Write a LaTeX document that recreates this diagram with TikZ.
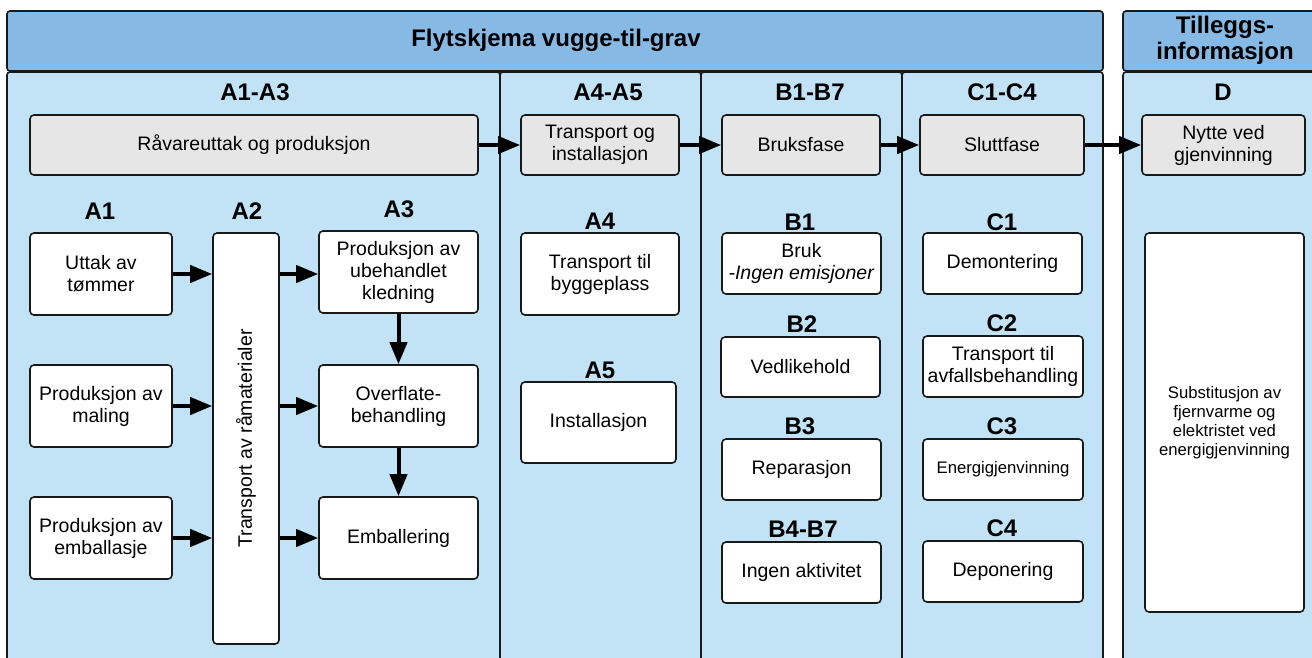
\documentclass[tikz,border=0pt]{standalone}
\usepackage{fontspec}
\setmainfont{Liberation Sans}
\usetikzlibrary{arrows.meta, positioning}
\definecolor{headblue}{RGB}{134,185,227}
\definecolor{panelblue}{RGB}{193,227,245}
\definecolor{phasegrey}{RGB}{230,230,230}
\definecolor{edgeline}{RGB}{25,25,25}
\newcommand{\bodyfont}{\fontsize{19.5}{22}\selectfont}
\newcommand{\headfont}{\fontsize{24}{26}\selectfont\bfseries}
\newcommand{\smallfont}{\fontsize{16.7}{19}\selectfont}
\tikzstyle{every node}=[font=\bodyfont]
\tikzstyle{panel}=[draw=edgeline,line width=1.6pt,rounded corners=3pt]
\tikzstyle{block}=[draw=edgeline,fill=white,rectangle,rounded corners=4pt,
  line width=1.6pt,align=center,inner sep=0pt]
\tikzstyle{phase}=[block,fill=phasegrey,minimum height=60pt]
\tikzstyle{modhead}=[font=\headfont,align=center,inner sep=0pt]
\tikzstyle{flowarrow}=[draw=black,line width=4pt,-{Triangle[length=22pt,width=17pt]}]

\begin{document}
\begin{tikzpicture}[x=1pt,y=-1pt]
  \useasboundingbox (0,0) rectangle (1312,657);
  \clip (0,0) rectangle (1312,657);
  \draw[panel,fill=headblue] (7,11) rectangle (1103,71);
  \draw[panel,fill=headblue] (1123,11) rectangle (1330,71);
  \draw[panel,fill=panelblue] (7,72) rectangle (500,700);
  \draw[panel,fill=panelblue] (500,72) rectangle (701,700);
  \draw[panel,fill=panelblue] (701,72) rectangle (902,700);
  \draw[panel,fill=panelblue] (902,72) rectangle (1103,700);
  \draw[panel,fill=panelblue] (1123,72) rectangle (1330,700);

  \node[modhead] (title) at (556,40) {Flytskjema vugge-til-grav};
  \node[modhead] (tillegg) at (1225,40) {Tilleggs-\\informasjon};
  \node[modhead] (hAA) at (255,92) {A1-A3};
  \node[modhead] (hAB) at (608,92) {A4-A5};
  \node[modhead] (hB) at (810,92) {B1-B7};
  \node[modhead] (hC) at (1002,92) {C1-C4};
  \node[modhead] (hD) at (1223,92) {D};

  \node[phase,minimum width=448pt] (raa) at (254,145) {Råvareuttak og produksjon};
  \node[phase,minimum width=158pt] (trinst) at (600,145) {Transport og\\installasjon};
  \node[phase,minimum width=158pt] (bruks) at (801,145) {Bruksfase};
  \node[phase,minimum width=164pt] (slutt) at (1002,145) {Sluttfase};
  \node[phase,minimum width=163pt] (nytte) at (1223.5,145) {Nytte ved\\gjenvinning};

  \node[modhead] (hA1) at (100,211) {A1};
  \node[modhead] (hA2) at (247,211) {A2};
  \node[modhead] (hA3) at (399,209) {A3};
  \node[block,minimum width=142pt,minimum height=82pt] (uttak) at (101,274) {Uttak av\\tømmer};
  \node[block,minimum width=142pt,minimum height=82pt] (maling) at (101,406) {Produksjon av\\maling};
  \node[block,minimum width=142pt,minimum height=82pt] (embprod) at (101,538) {Produksjon av\\emballasje};
  \node[block,minimum width=66pt,minimum height=411pt,
    label={[rotate=90,font=\bodyfont]center:Transport av råmaterialer}] (raamat) at (246,438.5) {};
  \node[block,minimum width=159pt,minimum height=82pt] (ubeh) at (398.5,272) {Produksjon av\\ubehandlet\\kledning};
  \node[block,minimum width=159pt,minimum height=82pt] (overfl) at (398.5,406) {Overflate-\\behandling};
  \node[block,minimum width=159pt,minimum height=82pt] (emball) at (398.5,538) {Emballering};

  \node[modhead] (hA4) at (600,221) {A4};
  \node[block,minimum width=158pt,minimum height=82pt] (bygg) at (600,274) {Transport til\\byggeplass};
  \node[modhead] (hA5) at (600,370) {A5};
  \node[block,minimum width=155pt,minimum height=81pt] (install) at (598.5,422.5) {Installasjon};

  \node[modhead] (hB1) at (800,222) {B1};
  \node[block,minimum width=159pt,minimum height=61pt] (bruk) at (801.5,263.5) {Bruk\\\textit{-Ingen emisjoner}};
  \node[modhead] (hB2) at (802,324) {B2};
  \node[block,minimum width=159pt,minimum height=60pt] (vedl) at (800.5,367) {Vedlikehold};
  \node[modhead] (hB3) at (800,426) {B3};
  \node[block,minimum width=159pt,minimum height=61pt] (repar) at (801.5,469.5) {Reparasjon};
  \node[modhead] (hB47) at (803,529) {B4-B7};
  \node[block,minimum width=159pt,minimum height=61pt] (ingen) at (801.5,572.5) {Ingen aktivitet};

  \node[modhead] (hC1) at (1002,222) {C1};
  \node[block,minimum width=159pt,minimum height=61pt] (demont) at (1002.5,263.5) {Demontering};
  \node[modhead] (hC2) at (1002,323) {C2};
  \node[block,minimum width=160pt,minimum height=61pt] (avfall) at (1003,366.5) {Transport til\\avfallsbehandling};
  \node[modhead] (hC3) at (1002,426) {C3};
  \node[block,minimum width=160pt,minimum height=61pt,font=\smallfont] (energi) at (1003,469.5) {Energigjenvinning};
  \node[modhead] (hC4) at (1002,528) {C4};
  \node[block,minimum width=160pt,minimum height=61pt] (depon) at (1003,571.5) {Deponering};

  \node[block,minimum width=159pt,minimum height=379pt,font=\smallfont] (subst) at (1224.5,422.5)
    {Substitusjon av\\fjernvarme og\\elektristet ved\\energigjenvinning};

  \draw[flowarrow] (raa) -- (trinst);
  \draw[flowarrow] (trinst) -- (bruks);
  \draw[flowarrow] (bruks) -- (slutt);
  \draw[flowarrow] (slutt) -- (nytte);
  \draw[flowarrow] (uttak.east) -- (uttak.east -| raamat.west);
  \draw[flowarrow] (maling.east) -- (maling.east -| raamat.west);
  \draw[flowarrow] (embprod.east) -- (embprod.east -| raamat.west);
  \draw[flowarrow] (raamat.east |- uttak.east) -- (ubeh.west |- uttak.east);
  \draw[flowarrow] (raamat.east |- overfl.west) -- (overfl.west);
  \draw[flowarrow] (raamat.east |- emball.west) -- (emball.west);
  \draw[flowarrow] (ubeh) -- (overfl);
  \draw[flowarrow] (overfl) -- (emball);
\end{tikzpicture}
\end{document}
